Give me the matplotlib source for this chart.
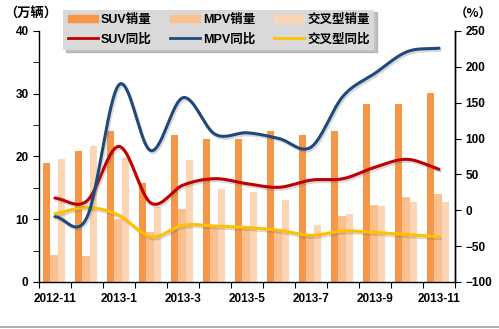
import matplotlib
matplotlib.use("Agg")
from matplotlib import pyplot as plt
from matplotlib.patches import Patch
from matplotlib.lines import Line2D
import matplotlib.patheffects as pe
import numpy as np

plt.rcParams['font.family'] = ['Liberation Sans', 'Noto Sans CJK SC', 'DejaVu Sans']
plt.rcParams['font.weight'] = 'bold'

months = ['2012-11', '2012-12', '2013-1', '2013-2', '2013-3', '2013-4', '2013-5',
          '2013-6', '2013-7', '2013-8', '2013-9', '2013-10', '2013-11']
suv_sales = [19.0, 20.8, 24.1, 15.8, 23.4, 22.8, 22.8, 24.1, 23.4, 24.1, 28.4, 28.4, 30.1]
mpv_sales = [4.3, 4.2, 10.1, 7.9, 11.6, 9.0, 8.8, 8.5, 7.5, 10.5, 12.3, 13.6, 14.0]
cross_sales = [19.6, 21.7, 19.7, 12.0, 19.4, 14.8, 14.4, 13.1, 9.1, 10.8, 12.1, 12.7, 12.7]
suv_yoy = [17, 13, 89, 10, 35, 44, 37, 32, 42, 44, 60, 71, 57]
mpv_yoy = [-9, -10, 175, 83, 157, 106, 108, 100, 88, 159, 191, 221, 226]
cross_yoy = [-5, 4, -7, -37, -21, -22, -24, -28, -35, -29, -31, -34, -37]

x = np.arange(len(months))


def smooth(xs, ys, n=20):
    # 类似Excel的平滑线 (Catmull-Rom)
    xs = np.asarray(xs, float)
    ys = np.asarray(ys, float)
    px = np.concatenate([[2 * xs[0] - xs[1]], xs, [2 * xs[-1] - xs[-2]]])
    py = np.concatenate([[2 * ys[0] - ys[1]], ys, [2 * ys[-1] - ys[-2]]])
    ox, oy = [], []
    t = np.linspace(0, 1, n, endpoint=False)
    for i in range(1, len(px) - 2):
        for arr, out in ((px, ox), (py, oy)):
            p0, p1, p2, p3 = arr[i - 1], arr[i], arr[i + 1], arr[i + 2]
            out.extend(0.5 * ((2 * p1) + (-p0 + p2) * t + (2 * p0 - 5 * p1 + 4 * p2 - p3) * t ** 2
                              + (-p0 + 3 * p1 - 3 * p2 + p3) * t ** 3))
    ox.append(xs[-1])
    oy.append(ys[-1])
    return np.array(ox), np.array(oy)


fig = plt.figure(figsize=(4.99, 3.29), dpi=100)
ax = fig.add_axes([0.078, 0.143, 0.834, 0.763])
ax2 = ax.twinx()

w = 0.235
ax.bar(x - 0.27, suv_sales, w, color='#F79646', zorder=2)
ax.bar(x - 0.035, mpv_sales, w, color='#FAC090', zorder=2)
ax.bar(x + 0.2, cross_sales, w, color='#FCD5B5', zorder=2)

shadow = [pe.SimpleLineShadow(offset=(1, -1.5), shadow_color='#666666', alpha=0.25), pe.Normal()]
for vals, c in ((cross_yoy, '#FFC000'), (suv_yoy, '#C00000'), (mpv_yoy, '#1F497D')):
    sx, sy = smooth(x, vals)
    ax2.plot(sx, sy, color=c, lw=2.2, solid_capstyle='round', path_effects=shadow)

ax.set_xlim(-0.5, len(months) - 0.5)
ax.set_ylim(0, 40)
ax2.set_ylim(-100, 250)
ax.set_yticks([0, 10, 20, 30, 40])
ax.set_yticks([5, 15, 25, 35], minor=True)
ax2.set_yticks(np.arange(-100, 251, 50))
ax.set_xticks(np.arange(-0.5, len(months), 1))
ax.set_xticklabels([])
ax.set_xticks(x[::2], minor=True)
ax.set_xticklabels(months[::2], minor=True)
ax.tick_params(axis='x', which='minor', length=0, pad=8, labelsize=8.5)
ax.tick_params(axis='x', which='major', length=4, direction='out')
ax.tick_params(axis='y', which='both', length=4, direction='out', labelsize=8.5)
ax2.tick_params(axis='y', length=4, direction='out', labelsize=8.5)

for a in (ax, ax2):
    a.spines['top'].set_visible(False)
    for s in a.spines.values():
        s.set_linewidth(1.0)
ax2.spines['left'].set_visible(False)
ax2.spines['bottom'].set_visible(False)

fig.text(0.008, 0.945, '（万辆）', fontsize=9.5, fontweight='bold',
         family=['Noto Sans CJK SC', 'DejaVu Sans'])
fig.text(0.985, 0.945, '（%）', fontsize=9, fontweight='bold', ha='right',
         family=['Noto Sans CJK SC', 'DejaVu Sans'])

handles = [Patch(color='#F79646'), Line2D([], [], color='#C00000', lw=2),
           Patch(color='#FAC090'), Line2D([], [], color='#1F497D', lw=2),
           Patch(color='#FCD5B5'), Line2D([], [], color='#FFC000', lw=2)]
labels = ['SUV销量', 'SUV同比', 'MPV销量', 'MPV同比', '交叉型销量', '交叉型同比']
leg = fig.legend(handles, labels, ncol=3, loc='upper left', bbox_to_anchor=(0.114, 0.99),
                 frameon=True, fancybox=False, shadow={'color': '#888888', 'alpha': 0.5},
                 facecolor='#D9D9D9', edgecolor='none',
                 framealpha=1, handlelength=2.4, handleheight=0.5, handletextpad=0.25,
                 columnspacing=1.5, labelspacing=0.55, borderpad=0.35,
                 prop={'family': ['Liberation Sans', 'Noto Sans CJK SC'], 'weight': 'bold', 'size': 9})

fig.add_artist(Line2D([0, 1], [0.006, 0.006], color='#A0A0A0', lw=1.2, transform=fig.transFigure))

fig.savefig('out.png', dpi=100)
